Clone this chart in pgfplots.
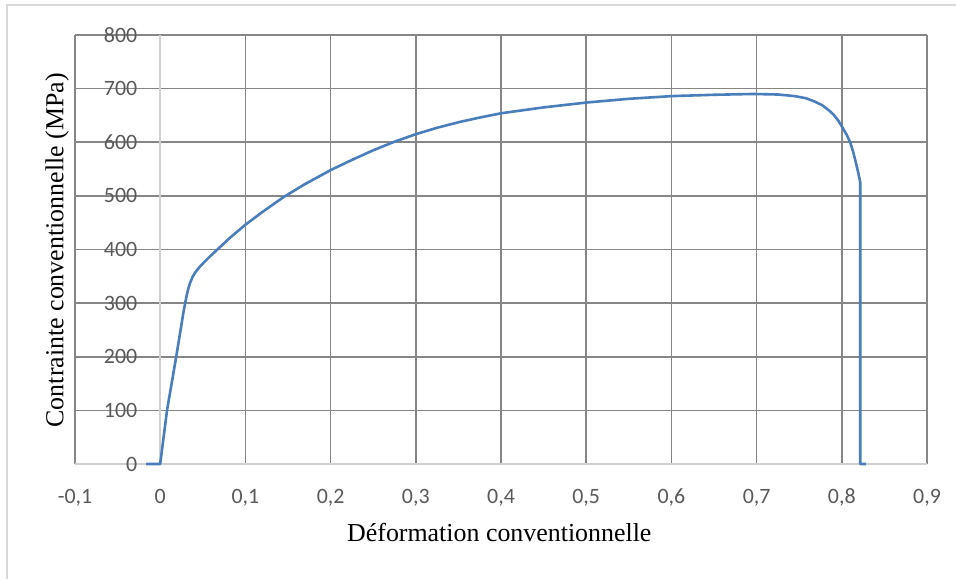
\documentclass[border=0pt]{standalone}
\usepackage{fontspec}
\setmainfont{Liberation Serif}
\newfontfamily\calibri{Carlito}
\usepackage{pgfplots}
\pgfplotsset{compat=1.18}
\definecolor{gridgray}{RGB}{134,134,134}
\definecolor{axgray}{RGB}{208,208,208}
\definecolor{framegray}{RGB}{217,217,217}
\definecolor{ticktext}{RGB}{89,89,89}
\definecolor{curveblue}{RGB}{74,126,187}
\begin{document}
\begin{tikzpicture}[x=1bp,y=1bp]
\useasboundingbox (0,0) rectangle (956,579);
\fill[white] (0,0) rectangle (956,579);
\draw[framegray, line width=1.5bp] (7,-10) -- (7,574) -- (970,574);
\begin{axis}[
  at={(75bp,115bp)}, anchor=south west,
  scale only axis, width=852bp, height=429bp,
  xmin=-0.1, xmax=0.9, ymin=0, ymax=800,
  axis line style={draw=none},
  major tick length=0pt,
  xtick={-0.1,0.1,0.2,0.3,0.4,0.5,0.6,0.7,0.8,0.9},
  xticklabels={{-0,1},{0,1},{0,2},{0,3},{0,4},{0,5},{0,6},{0,7},{0,8},{0,9}},
  ytick={100,200,300,400,500,600,700,800},
  yticklabels={100,200,300,400,500,600,700,800},
  extra x ticks={0}, extra x tick labels={0},
  extra y ticks={0}, extra y tick labels={0},
  extra x tick style={grid style={axgray, line width=1.6bp}},
  extra y tick style={grid style={axgray, line width=1.6bp}},
  grid=major,
  grid style={gridgray, line width=1.6bp},
  ticklabel style={font=\calibri\fontsize{22}{24}\selectfont, text=ticktext, inner sep=0pt},
  xticklabel style={anchor=base, yshift=-39.5bp},
  yticklabel style={anchor=east, xshift=62.5bp},
  xlabel={Déformation conventionnelle},
  ylabel={Contrainte conventionnelle (MPa)},
  label style={font=\fontsize{26}{30}\selectfont, text=black, inner sep=0pt},
  xlabel style={at={(axis description cs:0.498,0)}, anchor=base, yshift=-78bp},
  ylabel style={at={(axis description cs:-0.0137,0.498)}, anchor=base, rotate=0},
  clip=false,
]
\addplot[curveblue, line width=2.6bp, line join=round] coordinates {
(-0.0165,0) (0,0) (0.008,100) (0.0188,200) (0.0275,285) (0.0296,302) (0.031,314) (0.033,327) (0.0352,338) (0.038,349) (0.0415,358) (0.046,367) (0.052,377) (0.059,388) (0.0665,399) (0.082,422) (0.0998,446) (0.12,470) (0.145,498) (0.17,522) (0.2,548) (0.225,567) (0.25,585) (0.275,601) (0.3,615) (0.325,627) (0.352,638) (0.375,646) (0.4,654) (0.45,665) (0.5,674) (0.55,681) (0.6,686) (0.65,688.5) (0.696,690) (0.725,689) (0.745,686) (0.758,682) (0.768,676) (0.777,669) (0.7845,660) (0.79,652) (0.796,640) (0.801,627) (0.806,613) (0.81,599) (0.8135,581) (0.8165,562) (0.819,545) (0.8216,526) (0.8216,0) (0.8286,0)
};
\end{axis}
\end{tikzpicture}
\end{document}
